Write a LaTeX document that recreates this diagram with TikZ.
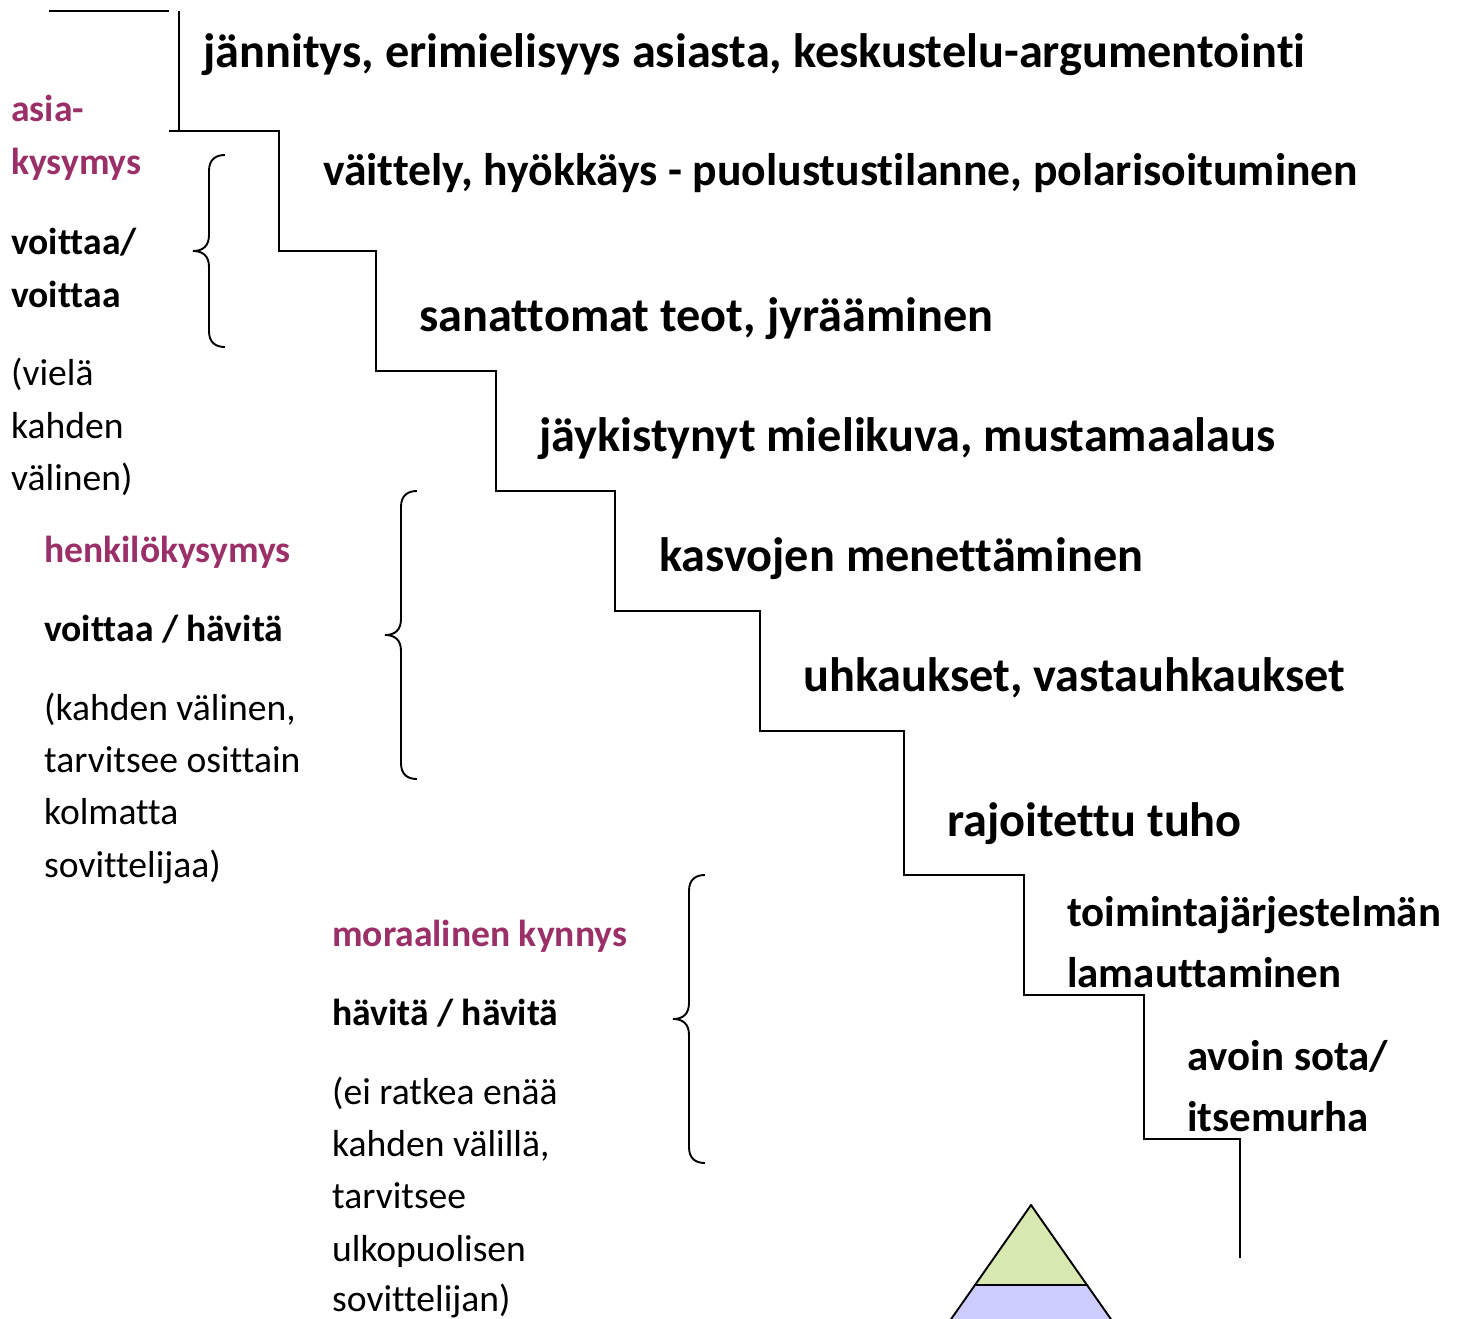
\documentclass[tikz,border=0pt]{standalone}
\usepackage{fontspec}
\setmainfont[Ligatures=NoCommon]{Carlito}
\definecolor{plum}{HTML}{9B3068}
\definecolor{lgreen}{HTML}{D7E9B0}
\definecolor{lblue}{HTML}{CCCCFF}
\tikzset{
 stair/.style={draw=black,line width=2pt,line join=miter},
 brc/.style={draw=black,line width=1.9pt},
 big/.style={anchor=base west,inner sep=0pt,font=\fontsize{48.3}{50}\selectfont\bfseries},
 wide/.style={anchor=base west,inner sep=0pt,font=\fontsize{45.7}{50}\selectfont\bfseries},
 mid/.style={anchor=base west,inner sep=0pt,font=\fontsize{42.9}{46}\selectfont\bfseries},
 head/.style={anchor=base west,inner sep=0pt,text=plum,font=\fontsize{37.6}{40}\selectfont\bfseries},
 strong/.style={anchor=base west,inner sep=0pt,font=\fontsize{37.6}{40}\selectfont\bfseries},
 plain/.style={anchor=base west,inner sep=0pt,font=\fontsize{37.6}{40}\selectfont},
}
\newcommand{\curly}[3]{% x of stem, y top, y bottom
 \pgfmathsetmacro{\ymid}{(#2+#3)/2}
 \draw[brc] (#1+16,#2) .. controls (#1+6,#2) and (#1,#2+5) .. (#1,#2+16)
   -- (#1,\ymid-16) .. controls (#1,\ymid-5) and (#1-6,\ymid) .. (#1-16,\ymid)
   .. controls (#1-6,\ymid) and (#1,\ymid+5) .. (#1,\ymid+16)
   -- (#1,#3-16) .. controls (#1,#3-5) and (#1+6,#3) .. (#1+16,#3);
}
\begin{document}
\begin{tikzpicture}[x=1pt,y=-1pt]
\useasboundingbox (0,0) rectangle (1460,1319);
\clip (0,0) rectangle (1460,1319);
% stairs
\draw[stair] (49,11) -- (169,11);
\draw[stair] (179,11) -- (179,131);
\draw[stair] (169,131) -- (279,131) -- (279,251) -- (375.5,251) -- (375.5,371) -- (495.5,371) -- (495.5,491) -- (615,491) -- (615,611) -- (759.5,611) -- (759.5,731) -- (904,731) -- (904,875) -- (1023.5,875) -- (1023.5,995) -- (1143.5,995) -- (1143.5,1139) -- (1239.5,1139) -- (1239.5,1258);
% pyramid
\draw[fill=lgreen,line width=1.9pt,line join=round] (1031,1205) -- (1087,1285) -- (975,1285) -- cycle;
\draw[fill=lblue,line width=1.9pt] (975,1285) -- (1087,1285) -- (1167,1399) -- (895,1399) -- cycle;
% braces
\curly{209}{155}{347}
\curly{401}{491}{779}
\curly{689}{875}{1163}
% stair labels
\node[big] (t1) at (203,67.5) {jännitys, erimielisyys asiasta, keskustelu-argumentointi};
\node[wide] (t2) at (323,185.5) {väittely, hyökkäys - puolustustilanne, polarisoituminen};
\node[big] (t3) at (419,331) {sanattomat teot, jyrääminen};
\node[big] (t4) at (539,451) {jäykistynyt mielikuva, mustamaalaus};
\node[big] (t5) at (659,571) {kasvojen menettäminen};
\node[big] (t6) at (803,691) {uhkaukset, vastauhkaukset};
\node[big] (t7) at (947,836) {rajoitettu tuho};
\node[mid] (t8a) at (1067,926) {toimintajärjestelmän};
\node[mid] (t8b) at (1067,987) {lamauttaminen};
\node[mid] (t9a) at (1187,1070) {avoin sota/};
\node[mid] (t9b) at (1187,1131) {itsemurha};
% group 1
\node[head] (a1) at (11,122) {asia-};
\node[head] (a2) at (11,175) {kysymys};
\node[strong] (a3) at (11,254) {voittaa/};
\node[strong] (a4) at (11,307) {voittaa};
\node[plain] (a5) at (11,385) {(vielä};
\node[plain] (a6) at (11,438) {kahden};
\node[plain] (a7) at (11,490) {välinen)};
% group 2
\node[head] (b1) at (44,562) {henkilökysymys};
\node[strong] (b2) at (44,641) {voittaa / hävitä};
\node[plain] (b3) at (44,720) {(kahden välinen,};
\node[plain] (b4) at (44,772) {tarvitsee osittain};
\node[plain] (b5) at (44,824) {kolmatta};
\node[plain] (b6) at (44,877) {sovittelijaa)};
% group 3
\node[head] (c1) at (332,946) {moraalinen kynnys};
\node[strong] (c2) at (332,1025) {hävitä / hävitä};
\node[plain] (c3) at (332,1104) {(ei ratkea enää};
\node[plain] (c4) at (332,1156) {kahden välillä,};
\node[plain] (c5) at (332,1208) {tarvitsee};
\node[plain] (c6) at (332,1261) {ulkopuolisen};
\node[plain] (c7) at (332,1311.5) {sovittelijan)};
\end{tikzpicture}
\end{document}
